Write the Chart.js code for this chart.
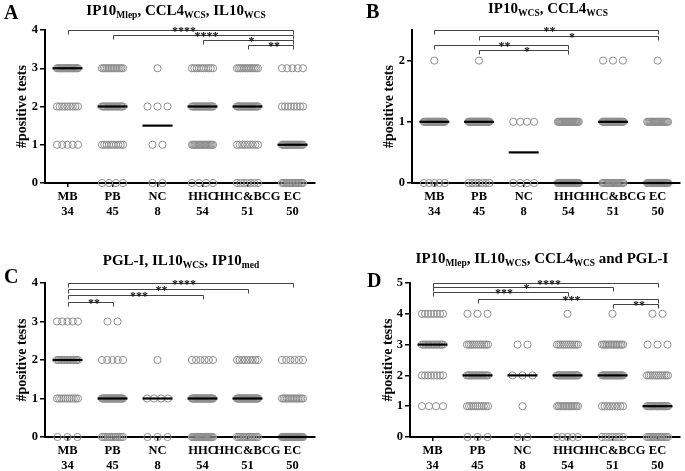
<!DOCTYPE html>
<html>
<head>
<meta charset="utf-8">
<script src="https://cdn.jsdelivr.net/npm/chart.js@4.4.1/dist/chart.umd.min.js"></script>
<style>
  body { margin: 0; background: #fff; }
  .panel { position: absolute; }
</style>
</head>
<body>
<div class="panel" style="left:0;top:0"><canvas id="chartA" width="340" height="235"></canvas></div>
<div class="panel" style="left:340px;top:0"><canvas id="chartB" width="345" height="235"></canvas></div>
<div class="panel" style="left:0;top:235px"><canvas id="chartC" width="340" height="236"></canvas></div>
<div class="panel" style="left:340px;top:235px"><canvas id="chartD" width="345" height="236"></canvas></div>
<script>
// --- Data ---------------------------------------------------
const groups = ['MB', 'PB', 'NC', 'HHC', 'HHC&BCG', 'EC'];
const groupN = ['34', '45', '8', '54', '51', '50'];

// subjects per score, index = #positive tests (one row per group)
const countsA = [[0, 5, 9, 20], [4, 10, 17, 14], [2, 2, 3, 1], [4, 18, 22, 10], [7, 9, 22, 13], [15, 22, 8, 5]];
const countsB = [[5, 28, 1], [7, 37, 1], [4, 4, 0], [30, 24, 0], [18, 30, 3], [29, 20, 1]];
const countsC = [[3, 11, 15, 5], [12, 26, 5, 2], [3, 4, 1, 0], [20, 28, 6, 0], [14, 28, 9, 0], [30, 14, 6, 0]];
const countsD = [[0, 4, 8, 14, 8], [3, 11, 16, 12, 3], [2, 1, 3, 2, 0], [5, 14, 22, 12, 1], [7, 9, 20, 14, 1], [14, 19, 12, 3, 2]];

const mediansA = [3, 2, 1.5, 2, 2, 1];
const mediansB = [1, 1, 0.5, 0, 1, 0];
const mediansC = [2, 1, 1, 1, 1, 0];
const mediansD = [3, 2, 2, 2, 2, 1];

// [from group, to group, bracket level, label]
const bracketsA = [[0, 5, 4.0, '****'], [1, 5, 3.88, '****'], [3, 5, 3.75, '*'], [4, 5, 3.62, '**']];
const bracketsB = [[0, 5, 2.5, '**'], [1, 5, 2.4, '*'], [0, 3, 2.26, '**'], [1, 3, 2.17, '*']];
const bracketsC = [[0, 5, 4.0, '****'], [0, 4, 3.85, '**'], [0, 3, 3.69, '***'], [0, 1, 3.5, '**']];
const bracketsD = [[0, 5, 5.0, '****'], [0, 4, 4.86, '*'], [0, 3, 4.7, '***'], [1, 5, 4.48, '***'], [4, 5, 4.32, '**']];

const yTicksA = [0, 1, 2, 3, 4];
const yTicksB = [0, 1, 2];
const yTicksC = [0, 1, 2, 3, 4];
const yTicksD = [0, 1, 2, 3, 4, 5];

// title pieces: [text, isSubscript]
const titleA = [['IP10', 0], ['Mlep', 1], [', CCL4', 0], ['WCS', 1], [', IL10', 0], ['WCS', 1]];
const titleB = [['IP10', 0], ['WCS', 1], [', CCL4', 0], ['WCS', 1]];
const titleC = [['PGL-I, IL10', 0], ['WCS', 1], [', IP10', 0], ['med', 1]];
const titleD = [['IP10', 0], ['Mlep', 1], [', IL10', 0], ['WCS', 1], [', CCL4', 0], ['WCS', 1], [' and PGL-I', 0]];

const SERIF = '"Liberation Serif", "Times New Roman", serif';

// spread the points of one score sideways (column scatter)
function scatterPoints(counts) {
  const pts = [];
  counts.forEach((row, g) => {
    row.forEach((n, score) => {
      const step = n > 1 ? Math.min(10, 21 / (n - 1)) / 45 : 0;
      for (let k = 0; k < n; k++) {
        pts.push({ x: g + (k - (n - 1) / 2) * step, y: score });
      }
    });
  });
  return pts;
}

// medians, significance brackets, titles
const decoPlugin = {
  id: 'deco',
  afterDatasetsDraw(chart, args, o) {
    const { ctx, scales: { x, y }, chartArea } = chart;
    ctx.save();

    ctx.strokeStyle = '#000';
    ctx.lineWidth = 2.2;
    o.medians.forEach((m, i) => {
      const px = x.getPixelForValue(i), py = y.getPixelForValue(m);
      ctx.beginPath();
      ctx.moveTo(px - 15, py);
      ctx.lineTo(px + 15, py);
      ctx.stroke();
    });

    ctx.strokeStyle = '#444';
    ctx.lineWidth = 1;
    ctx.fillStyle = '#111';
    ctx.font = 'bold 12px ' + SERIF;
    ctx.textAlign = 'center';
    ctx.textBaseline = 'alphabetic';
    o.brackets.forEach(([a, b, lvl, lab]) => {
      const x1 = Math.round(x.getPixelForValue(a)) + 0.5;
      const x2 = Math.round(x.getPixelForValue(b)) + 0.5;
      const py = Math.round(y.getPixelForValue(lvl)) + 0.5;
      ctx.beginPath();
      ctx.moveTo(x1, py + 4);
      ctx.lineTo(x1, py);
      ctx.lineTo(x2, py);
      ctx.lineTo(x2, py + 4);
      ctx.stroke();
      ctx.fillText(lab, (x1 + x2) / 2 + 3, py + 4);
    });

    // title with subscripts
    ctx.fillStyle = '#000';
    ctx.textAlign = 'left';
    const main = 'bold 15px ' + SERIF, sub = 'bold 9.5px ' + SERIF;
    let w = 0;
    o.title.forEach(([t, s]) => { ctx.font = s ? sub : main; w += ctx.measureText(t).width; });
    let tx = o.titleX - w / 2;
    o.title.forEach(([t, s]) => {
      ctx.font = s ? sub : main;
      ctx.fillText(t, tx, s ? o.titleY + 3 : o.titleY);
      tx += ctx.measureText(t).width;
    });

    // panel letter
    ctx.font = 'bold 20px ' + SERIF;
    ctx.fillText(o.letter, o.letterX, o.letterY);

    // y axis title
    ctx.font = 'bold 14px ' + SERIF;
    ctx.textAlign = 'center';
    ctx.textBaseline = 'middle';
    ctx.translate(o.yTitleX, (chartArea.top + chartArea.bottom) / 2);
    ctx.rotate(-Math.PI / 2);
    ctx.fillText('#positive tests', 0, 0);

    ctx.restore();
  }
};

function makePanel(id, counts, medians, brackets, yMax, yTicks, p) {
  new Chart(document.getElementById(id), {
    type: 'scatter',
    data: {
      datasets: [{
        data: scatterPoints(counts),
        pointStyle: 'circle',
        pointRadius: 3.6,
        pointBorderWidth: 1,
        pointBorderColor: '#8e8e8e',
        pointBackgroundColor: 'rgba(0,0,0,0)',
        clip: false
      }]
    },
    options: {
      responsive: false,
      animation: false,
      layout: { padding: { left: 0, right: p.padRight, top: p.padTop, bottom: 0 } },
      plugins: {
        legend: { display: false },
        tooltip: { enabled: false },
        deco: {
          medians, brackets,
          title: p.title, titleX: p.titleX, titleY: p.titleY,
          letter: p.letter, letterX: p.letterX, letterY: p.letterY,
          yTitleX: p.yTitleX
        }
      },
      scales: {
        x: {
          type: 'linear',
          min: -0.5,
          max: 5.5,
          afterBuildTicks: (s) => { s.ticks = groups.map((_, i) => ({ value: i })); },
          afterFit: (s) => { s.height = p.xH; },
          grid: { drawOnChartArea: false, drawTicks: true, tickLength: 4, color: '#000', lineWidth: 1.5 },
          border: { display: true, color: '#000', width: 2 },
          ticks: {
            autoSkip: false,
            maxRotation: 0,
            minRotation: 0,
            padding: 3,
            color: '#000',
            font: { family: SERIF, size: 12.5, weight: 'bold', lineHeight: 1.15 },
            callback: (v) => [groups[v], groupN[v]]
          }
        },
        y: {
          min: 0,
          max: yMax,
          afterBuildTicks: (s) => { s.ticks = yTicks.map(v => ({ value: v })); },
          afterFit: (s) => { s.width = p.yW; },
          grid: { drawOnChartArea: false, drawTicks: true, tickLength: 5, color: '#000', lineWidth: 1.5 },
          border: { display: true, color: '#000', width: 2 },
          ticks: {
            padding: 2,
            color: '#000',
            font: { family: SERIF, size: 12.5, weight: 'bold' }
          }
        }
      }
    },
    plugins: [decoPlugin]
  });
}

makePanel('chartA', countsA, mediansA, bracketsA, 4, yTicksA,
  { padRight: 25, padTop: 30, yW: 45, xH: 52, title: titleA, titleX: 176, titleY: 15,
    letter: 'A', letterX: 4, letterY: 19, yTitleX: 22 });
makePanel('chartB', countsB, mediansB, bracketsB, 2.5, yTicksB,
  { padRight: 1, padTop: 30, yW: 72, xH: 52, title: titleB, titleX: 208, titleY: 13,
    letter: 'B', letterX: 26, letterY: 18, yTitleX: 49 });
makePanel('chartC', countsC, mediansC, bracketsC, 4, yTicksC,
  { padRight: 25, padTop: 48, yW: 45, xH: 34, title: titleC, titleX: 181, titleY: 30,
    letter: 'C', letterX: 4, letterY: 48, yTitleX: 22 });
makePanel('chartD', countsD, mediansD, bracketsD, 5, yTicksD,
  { padRight: 1, padTop: 48, yW: 70, xH: 34, title: titleD, titleX: 202, titleY: 28,
    letter: 'D', letterX: 27, letterY: 52, yTitleX: 48 });
</script>
</body>
</html>
